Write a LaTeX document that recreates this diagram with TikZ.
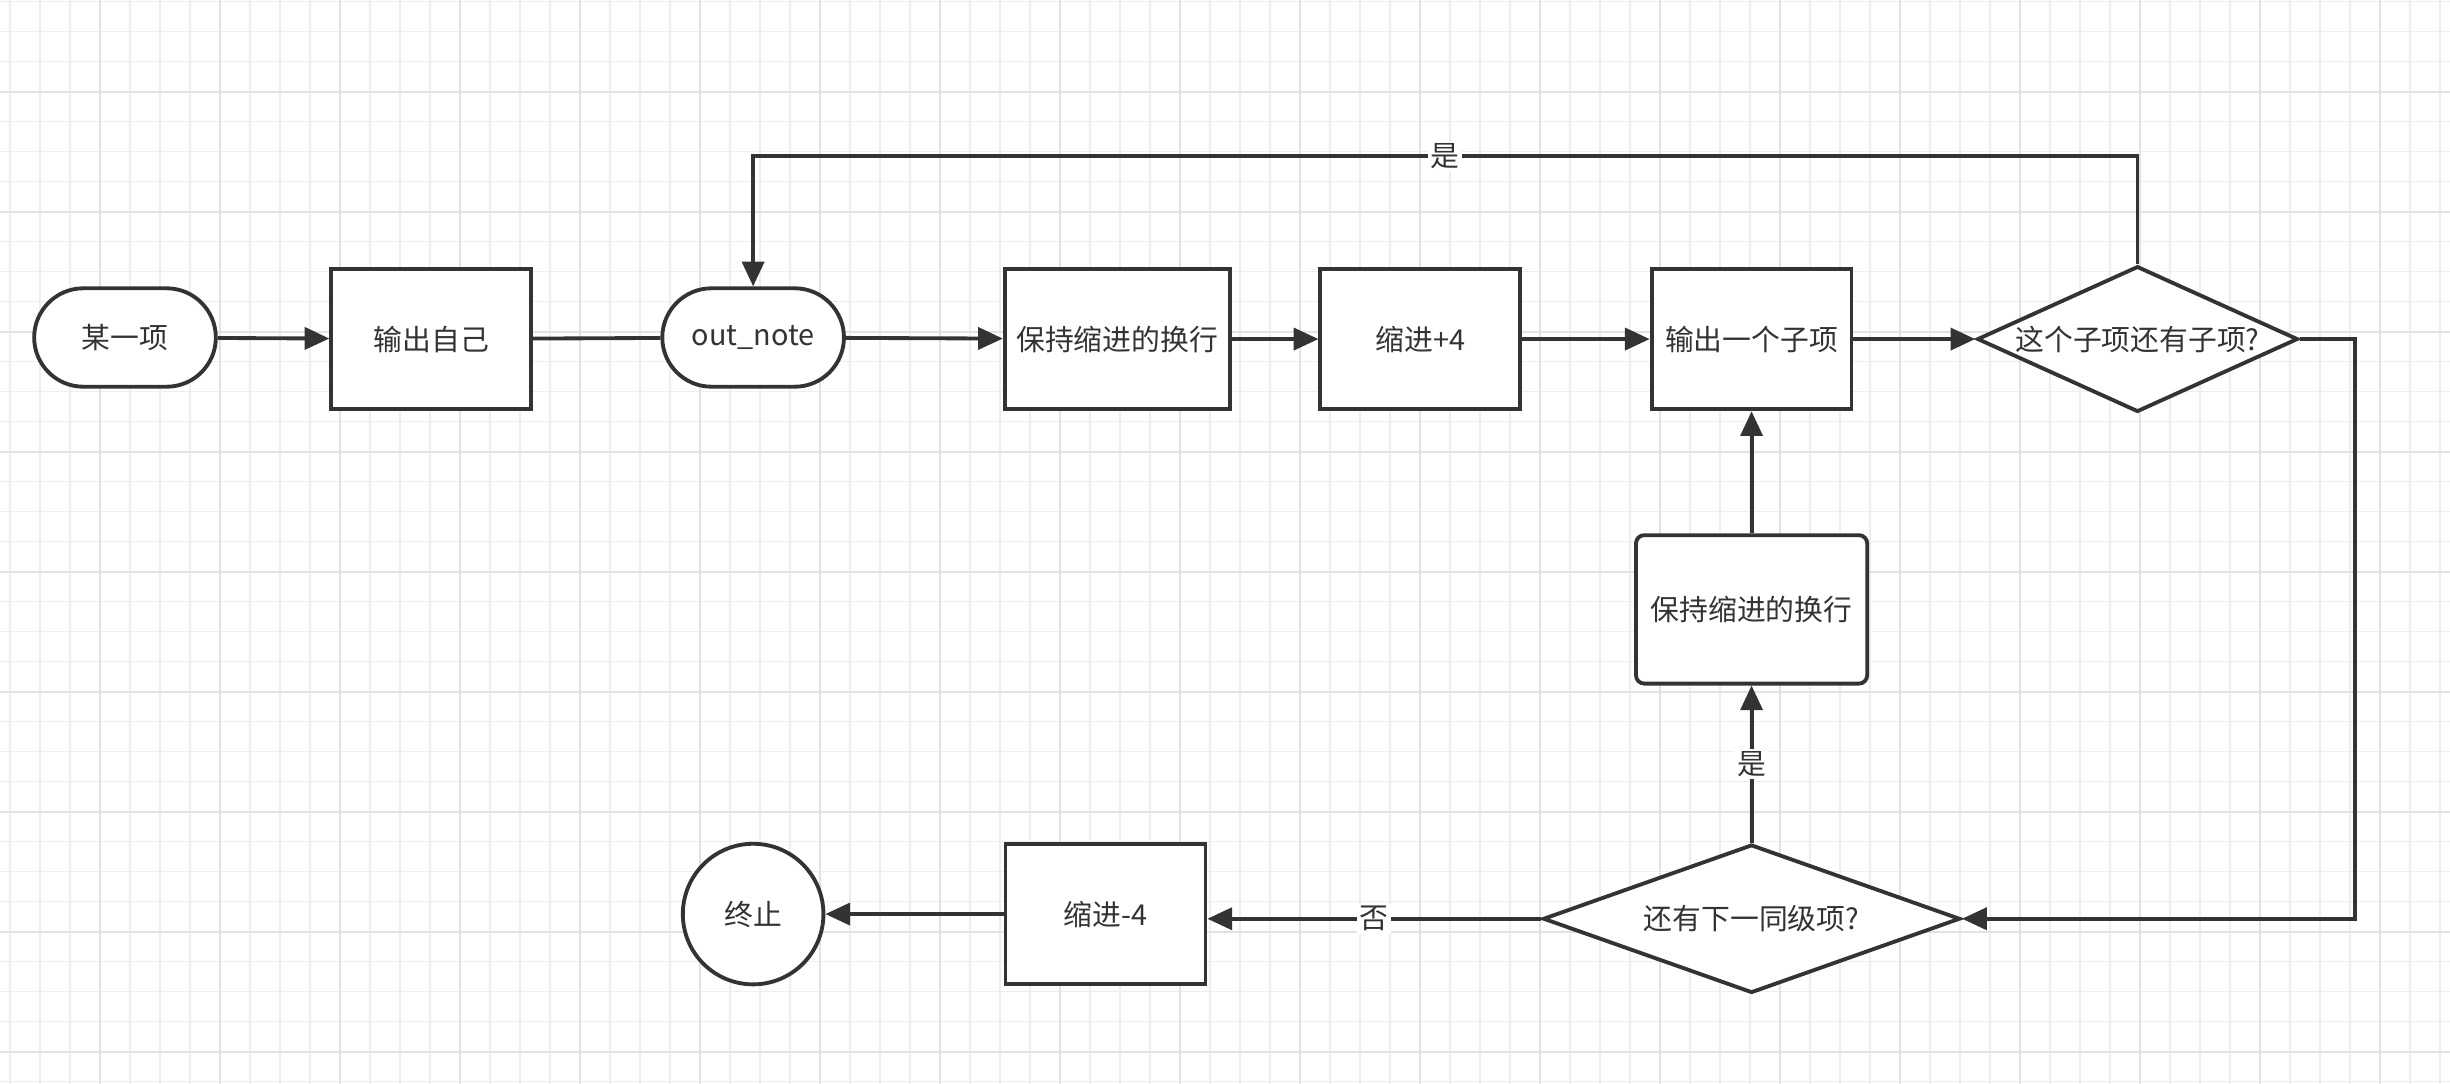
\documentclass[tikz,border=0pt]{standalone}
\usepackage{fontspec}
\setmainfont{Noto Sans CJK SC}
\usetikzlibrary{shapes.geometric,shapes.misc,arrows.meta}
\definecolor{ln}{HTML}{333333}
\definecolor{gminor}{HTML}{EEEEEE}
\definecolor{gmajor}{HTML}{E2E2E2}
\begin{document}
\begin{tikzpicture}[x=0.02cm,y=-0.02cm,
  every node/.style={font=\fontsize{10.5}{12}\selectfont,text=ln},
  base/.style={draw=ln,line width=1.4pt,fill=white},
  box/.style={base,rectangle,minimum width=2.56cm,minimum height=1.8cm},
  term/.style={base,rounded rectangle,minimum width=2.56cm,minimum height=1.26cm},
  dia/.style={base,diamond,aspect=2.2,inner sep=1pt},
  arr/.style={draw=ln,line width=1.4pt,-{Triangle[length=9pt,width=8pt]}},
  lnk/.style={draw=ln,line width=1.4pt},
  lab/.style={fill=white,inner sep=1pt}]
\useasboundingbox (0,0) rectangle (1568,693.76);
\fill[white] (0,0) rectangle (1568,693.76);
\foreach \i in {0,...,82} \draw[gminor,line width=0.5pt] ({6.4+19.2*\i},0) -- ({6.4+19.2*\i},693.76);
\foreach \i in {0,...,36} \draw[gminor,line width=0.5pt] (0,{1+19.2*\i}) -- (1568,{1+19.2*\i});
\foreach \i in {0,...,20} \draw[gmajor,line width=0.7pt] ({64+76.8*\i},0) -- ({64+76.8*\i},693.76);
\foreach \i in {0,...,9} \draw[gmajor,line width=0.7pt] (0,{58.6+76.8*\i}) -- (1568,{58.6+76.8*\i});

\node[term] (a) at (80,216) {某一项};
\node[box] (b) at (276,217) {输出自己};
\node[term] (c) at (482,216) {out\_note};
\node[box,minimum width=2.88cm] (d) at (715,217) {保持缩进的换行};
\node[box] (e) at (909,217) {缩进+4};
\node[box] (f) at (1121,217) {输出一个子项};
\node[dia,minimum width=4.04cm,minimum height=1.8cm] (g) at (1368,217) {这个子项还有子项?};
\node[dia,minimum width=5.34cm,minimum height=1.9cm] (h) at (1121,588) {还有下一同级项?};
\node[box,rounded corners=3pt,minimum width=2.96cm,minimum height=1.9cm] (i) at (1121,390) {保持缩进的换行};
\node[box] (j) at (707.5,585) {缩进-4};
\node[base,circle,minimum size=1.8cm] (k) at (482,585) {终止};

\draw[arr] (a) -- (b);
\draw[lnk] (b) -- (c);
\draw[arr] (c) -- (d);
\draw[arr] (d) -- (e);
\draw[arr] (e) -- (f);
\draw[arr] (f) -- (g);
\draw[arr] (g.north) -- (1368,100) -- node[lab]{是} (482,100) -- (c.north);
\draw[arr] (g.east) -- (1507,217) -- (1507,588) -- (h.east);
\draw[arr] (h.north) -- node[lab]{是} (i.south);
\draw[arr] (i) -- (f);
\draw[arr] (h.west) -- node[lab,pos=0.5]{否} (j.east |- h.west);
\draw[arr] (j.west |- k) -- (k);
\end{tikzpicture}
\end{document}
